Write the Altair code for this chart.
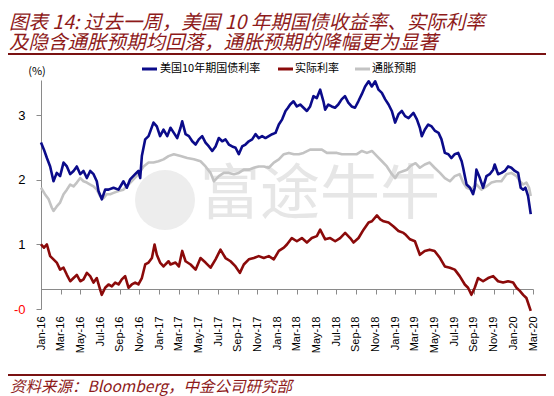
import altair as alt
import pandas as pd

# ---------------- data ----------------
series_names = ["美国10年期国债利率", "实际利率", "通胀预期"]
series_colors = ["#0B0B8A", "#8B0A0A", "#C3C3C3"]

x_tick_labels = ["Jan-16", "Mar-16", "May-16", "Jul-16", "Sep-16", "Nov-16",
                 "Jan-17", "Mar-17", "May-17", "Jul-17", "Sep-17", "Nov-17",
                 "Jan-18", "Mar-18", "May-18", "Jul-18", "Sep-18", "Nov-18",
                 "Jan-19", "Mar-19", "May-19", "Jul-19", "Sep-19", "Nov-19",
                 "Jan-20", "Mar-20"]
x_tick_values = [2 * i for i in range(len(x_tick_labels))]   # months since Jan-16
y_tick_values = [0, 1, 2, 3]

# [months since Jan-2016, %]
nominal = [(0,2.58),(0.3,2.47),(0.6,2.34),(0.93,2.21),(1.27,1.98),(1.6,2.11),(1.94,2.06),(2.29,2.27),
 (2.63,2.21),(2.97,2.09),(3.31,2.14),(3.64,2.21),(3.99,2.09),(4.32,2.14),(4.66,2.03),(5.0,2.14),
 (5.34,2.09),(5.67,1.98),(5.84,1.83),(6.18,1.70),(6.52,1.85),(6.86,1.85),(7.37,1.88),(7.88,1.85),
 (8.38,1.98),(8.72,1.88),(9.06,2.01),(9.57,2.09),(9.9,2.14),(10.08,2.03),(10.25,2.37),(10.59,2.63),
 (10.93,2.68),(11.43,2.89),(11.77,2.83),(12.1,2.68),(12.45,2.78),(12.83,2.68),(13.16,2.81),(13.5,2.73),
 (13.84,2.65),(14.18,2.81),(14.35,2.91),(14.69,2.71),(15.03,2.68),(15.37,2.60),(15.71,2.55),(16.04,2.63),
 (16.38,2.68),(16.72,2.58),(17.06,2.52),(17.4,2.45),(17.74,2.52),(18.07,2.65),(18.41,2.60),(18.75,2.63),
 (19.09,2.55),(19.43,2.52),(19.77,2.50),(20.1,2.40),(20.44,2.52),(20.78,2.55),(21.12,2.60),(21.46,2.63),
 (21.8,2.71),(22.13,2.65),(22.47,2.68),(22.81,2.65),(23.15,2.68),(23.49,2.71),(23.83,2.73),(24.17,2.86),
 (24.51,2.94),(24.85,3.07),(25.1,3.12),(25.32,3.17),(25.66,3.22),(26.0,3.14),(26.34,3.17),(26.68,3.12),
 (27.02,3.07),(27.35,3.14),(27.69,3.30),(28.03,3.27),(28.37,3.40),(28.7,3.22),(28.88,3.09),(29.2,3.17),
 (29.54,3.14),(29.88,3.12),(30.21,3.17),(30.55,3.25),(30.89,3.30),(31.23,3.20),(31.57,3.14),(31.91,3.12),
 (32.25,3.22),(32.6,3.33),(32.94,3.45),(33.3,3.53),(33.62,3.45),(33.96,3.53),(34.3,3.40),(34.64,3.35),
 (34.98,3.25),(35.32,3.17),(35.65,3.07),(35.99,2.89),(36.33,3.02),(36.67,3.07),(37.0,2.99),(37.35,2.96),
 (37.85,3.04),(38.2,2.94),(38.5,2.81),(38.7,2.68),(39.0,2.78),(39.35,2.86),(39.7,2.83),(40.05,2.76),
 (40.4,2.73),(40.7,2.63),(41.04,2.42),(41.4,2.40),(41.7,2.34),(42.05,2.40),(42.4,2.42),(42.75,2.29),
 (42.9,2.19),(43.07,2.06),(43.25,1.93),(43.6,1.88),(43.91,1.78),(44.08,1.88),(44.25,2.16),(44.6,2.03),
 (44.93,1.88),(45.27,2.06),(45.6,2.09),(45.95,2.16),(46.11,2.24),(46.45,2.09),(46.8,2.11),(47.13,2.14),
 (47.47,2.21),(47.8,2.19),(48.15,2.14),(48.49,2.11),(48.75,1.88),(49.0,1.85),(49.23,1.88),(49.5,1.75),
 (49.77,1.47)]

real = [(0,1.00),(0.3,0.95),(0.6,1.00),(0.93,0.82),(1.27,0.77),(1.6,0.72),(1.94,0.61),(2.29,0.64),
 (2.63,0.53),(2.97,0.43),(3.31,0.48),(3.64,0.53),(3.99,0.43),(4.32,0.46),(4.66,0.56),(5.0,0.51),
 (5.34,0.41),(5.67,0.48),(6.01,0.30),(6.18,0.22),(6.52,0.33),(6.86,0.38),(7.2,0.35),(7.54,0.41),
 (7.88,0.38),(8.21,0.46),(8.55,0.51),(8.89,0.33),(9.23,0.38),(9.57,0.41),(9.9,0.38),(10.25,0.48),
 (10.59,0.69),(10.93,0.72),(11.27,0.79),(11.54,1.00),(11.77,0.84),(12.1,0.72),(12.45,0.66),(12.96,0.74),
 (13.16,0.69),(13.67,0.72),(14.01,0.66),(14.35,0.90),(14.69,0.74),(15.2,0.69),(15.71,0.61),(16.21,0.79),
 (16.72,0.72),(17.23,0.64),(17.74,0.77),(18.24,0.92),(18.75,0.79),(19.26,0.74),(19.77,0.66),(20.21,0.56),
 (20.61,0.69),(21.12,0.77),(21.63,0.79),(22.13,0.82),(22.64,0.79),(23.15,0.82),(23.66,0.77),(24.17,0.90),
 (24.68,0.95),(24.99,1.00),(25.49,1.10),(26.0,1.05),(26.51,1.10),(27.02,1.03),(27.52,1.10),(28.03,1.13),
 (28.37,1.23),(28.88,1.08),(29.39,1.10),(29.9,1.05),(30.4,1.10),(30.91,1.18),(31.42,1.10),(31.76,1.03),
 (32.27,1.10),(32.78,1.23),(33.29,1.34),(33.63,1.36),(34.14,1.45),(34.48,1.39),(34.82,1.36),(35.32,1.34),
 (35.83,1.28),(36.33,1.21),(36.84,1.18),(37.0,1.16),(37.5,1.08),(38.0,1.05),(38.5,0.84),(39.0,0.90),
 (39.5,0.92),(40.0,0.90),(40.55,0.79),(41.04,0.66),(41.55,0.64),(42.05,0.61),(42.55,0.51),(43.07,0.38),
 (43.4,0.33),(43.74,0.22),(44.08,0.33),(44.42,0.48),(44.93,0.43),(45.44,0.48),(45.95,0.51),(46.45,0.43),
 (46.96,0.41),(47.47,0.43),(47.98,0.41),(48.32,0.33),(48.66,0.28),(49.0,0.22),(49.33,0.17),(49.77,-0.03)]

breakeven = [(0,1.88),(0.4,1.78),(0.78,1.70),(1.1,1.57),(1.27,1.52),(1.6,1.59),(1.94,1.65),(2.29,1.78),
 (2.63,1.85),(2.97,1.93),(3.31,1.90),(3.64,1.96),(3.99,2.03),(4.32,1.98),(4.66,1.96),(5.0,1.93),
 (5.34,1.90),(5.67,1.85),(6.01,1.75),(6.35,1.72),(6.69,1.78),(7.03,1.78),(7.37,1.80),(7.88,1.83),
 (8.38,1.85),(8.89,1.93),(9.4,2.01),(9.9,2.09),(10.42,2.21),(10.93,2.27),(11.43,2.27),(11.94,2.29),
 (12.45,2.32),(12.96,2.37),(13.5,2.40),(14.18,2.37),(14.86,2.34),(15.54,2.32),(16.21,2.29),(16.72,2.21),
 (17.23,2.11),(17.57,1.98),(18.07,2.06),(18.58,2.11),(19.09,2.11),(19.6,2.09),(20.1,2.11),(20.61,2.16),
 (21.12,2.16),(21.63,2.19),(22.13,2.21),(22.64,2.21),(23.15,2.19),(23.66,2.27),(24.17,2.32),(24.68,2.40),
 (25.19,2.42),(25.7,2.40),(26.2,2.40),(26.68,2.42),(27.35,2.47),(28.03,2.47),(28.54,2.47),(29.05,2.42),
 (29.56,2.42),(30.07,2.42),(30.58,2.40),(31.09,2.40),(31.6,2.40),(32.1,2.40),(32.61,2.45),(33.12,2.42),
 (33.63,2.45),(34.14,2.37),(34.65,2.29),(35.15,2.21),(35.66,2.09),(36.0,2.03),(36.33,2.11),(36.84,2.14),
 (37.2,2.16),(37.55,2.22),(38.06,2.26),(38.5,2.19),(39.0,2.24),(39.5,2.27),(40.0,2.19),(40.55,2.11),
 (41.04,2.03),(41.55,1.98),(42.05,2.06),(42.55,2.09),(42.9,1.96),(43.25,1.88),(43.74,1.85),(44.25,1.93),
 (44.76,1.85),(45.27,1.90),(45.78,1.96),(46.28,1.98),(46.79,1.98),(47.3,2.09),(47.8,2.11),(48.32,2.06),
 (48.66,1.98),(49.0,1.93),(49.33,1.96),(49.6,1.88),(49.77,1.75)]

title_lines = ["图表 14: 过去一周，美国 10 年期国债收益率、实际利率",
               "及隐含通胀预期均回落，通胀预期的降幅更为显著"]
source_text = "资料来源：Bloomberg，中金公司研究部"
unit_text = "(%)"
watermark_text = "富途牛牛"

# ---------------- chart ----------------
W, H = 492, 229
DARK_RED = "#8E1A1A"
AXIS_GREY = "#8A8A8A"
CJK = "Noto Sans CJK SC"

def series_df(pairs, name):
    return pd.DataFrame({"m": [p[0] for p in pairs], "v": [p[1] for p in pairs],
                         "s": name, "o": list(range(len(pairs)))})

x_label_array = "[" + ",".join("'%s'" % l for l in x_tick_labels) + "]"

x_enc = alt.X("m:Q", scale=alt.Scale(domain=[0, 50], nice=False, zero=False),
              axis=alt.Axis(values=x_tick_values, title=None, grid=False,
                            labelExpr=x_label_array + "[round(datum.value/2)]",
                            offset=-20, tickSize=5, labelAngle=270, labelAlign="right",
                            labelBaseline="middle", labelPadding=22, labelFont="Liberation Sans",
                            labelFontSize=11, labelColor="#000000", labelOverlap=False,
                            labelFlush=False, domainColor=AXIS_GREY, tickColor=AXIS_GREY))
y_enc = alt.Y("v:Q", scale=alt.Scale(domain=[0, 3.55], nice=False, zero=False),
              axis=alt.Axis(values=y_tick_values, title=None, grid=False,
                            labelExpr="datum.value == 0 ? '-0' : datum.label",
                            labelColor=alt.condition("datum.value == 0", alt.value("#FF0000"), alt.value("#000000")),
                            tickSize=5, labelPadding=11, labelFont="Liberation Sans",
                            labelFontSize=13, domainColor=AXIS_GREY, tickColor=AXIS_GREY))

def line_layer(pairs, idx):
    return alt.Chart(series_df(pairs, series_names[idx])).mark_line(
        color=series_colors[idx], strokeWidth=2.6, strokeJoin="round"
    ).encode(x=x_enc, y=y_enc, order="o:Q")

dummy = pd.DataFrame({"d": [0]})

def text_at(s, x, y, **kw):
    return alt.Chart(dummy).mark_text(**kw).encode(x=alt.value(x), y=alt.value(y), text=alt.value(s))

def rule_at(x1, x2, y, color, width):
    return alt.Chart(dummy).mark_rule(color=color, strokeWidth=width).encode(
        x=alt.value(x1), x2=alt.value(x2), y=alt.value(y))

layers = [
    # watermark
    alt.Chart(dummy).mark_point(filled=True, size=3600, color="#EDEDED", opacity=1).encode(
        x=alt.value(124), y=alt.value(120)),
    text_at(watermark_text, 279, 116, font=CJK, fontSize=60, color="#E6E6E6", align="center",
            baseline="middle"),
    line_layer(breakeven, 2),
    line_layer(real, 1),
    line_layer(nominal, 0),
    # title (two lines in one text mark) & decoration
    text_at(title_lines, -32, -57.5, font=CJK, fontSize=19.5, fontStyle="italic", color=DARK_RED,
            align="left", baseline="middle", lineHeight=20.5),
    rule_at(-33, 505, -26, "#7A1212", 2.2),
    rule_at(-33, 505, 295, "#7A1212", 2.2),
    text_at(source_text, -31, 307, font=CJK, fontSize=15.5, fontStyle="italic", color=DARK_RED,
            align="left", baseline="middle"),
    text_at(unit_text, -4, -8, font=CJK, fontSize=11, color="#000000", align="center",
            baseline="middle"),
    # legend
    rule_at(101, 116, -11, series_colors[0], 3),
    text_at(series_names[0], 119, -11, font=CJK, fontSize=11, color="#000000", align="left",
            baseline="middle"),
    rule_at(237, 252, -11, series_colors[1], 3),
    text_at(series_names[1], 254, -11, font=CJK, fontSize=11, color="#000000", align="left",
            baseline="middle"),
    rule_at(314, 329, -11, series_colors[2], 3),
    text_at(series_names[2], 331, -11, font=CJK, fontSize=11, color="#000000", align="left",
            baseline="middle"),
]

chart = alt.layer(*layers).properties(
    width=W, height=H,
    padding={"left": 33, "top": 72, "right": 13, "bottom": 87},
    autosize=alt.AutoSizeParams(type="none"),
    background="#FFFFFF",
).configure_view(stroke=None)

chart.save("out.html", embed_options={"renderer": "svg", "actions": False})
